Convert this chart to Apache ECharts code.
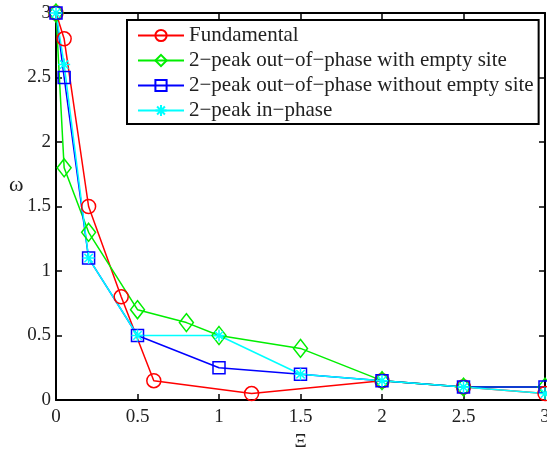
<!DOCTYPE html>
<html>
<head>
<meta charset="utf-8">
<script src="https://cdn.jsdelivr.net/npm/echarts@6/dist/echarts.min.js"></script>
<style>
  html, body { margin: 0; padding: 0; background: #fff; }
  #chart { width: 547px; height: 450px; }
</style>
</head>
<body>
<div id="chart"></div>
<script>
const seriesNames = [
  'Fundamental',
  '2\u2212peak out\u2212of\u2212phase with empty site',
  '2\u2212peak out\u2212of\u2212phase without empty site',
  '2\u2212peak in\u2212phase'
]

// [xi, omega] pairs
const fundamental = [[0, 3], [0.05, 2.8], [0.2, 1.5], [0.4, 0.8], [0.6, 0.15], [1.2, 0.05], [2, 0.15], [2.5, 0.1], [3, 0.05]]
const withEmpty = [[0, 3], [0.05, 1.8], [0.2, 1.3], [0.5, 0.7], [0.8, 0.6], [1, 0.5], [1.5, 0.4], [2, 0.15], [2.5, 0.1], [3, 0.1]]
const withoutEmpty = [[0, 3], [0.05, 2.5], [0.2, 1.1], [0.5, 0.5], [1, 0.25], [1.5, 0.2], [2, 0.15], [2.5, 0.1], [3, 0.1]]
const inPhase = [[0, 3], [0.05, 2.6], [0.2, 1.1], [0.5, 0.5], [1, 0.5], [1.5, 0.2], [2, 0.15], [2.5, 0.1], [3, 0.05]]

const xTicks = [0, 0.5, 1, 1.5, 2, 2.5, 3]

const font = "'Liberation Serif', 'Times New Roman', serif"
const asterisk = 'path://M0 5L10 5M5 0L5 10M1.5 1.5L8.5 8.5M8.5 1.5L1.5 8.5'

function makeSeries(name, data, color, symbol, size) {
  return {
    name: name,
    type: 'line',
    data: data,
    symbol: symbol,
    symbolSize: size,
    clip: false,
    animation: false,
    lineStyle: { color: color, width: 1.5 },
    itemStyle: {
      color: symbol === asterisk ? color : 'rgba(0,0,0,0)',
      borderColor: color,
      borderWidth: 1.5
    }
  }
}

const axisBase = {
  type: 'value',
  min: 0,
  max: 3,
  interval: 0.5,
  axisLine: { show: true, onZero: false, lineStyle: { color: '#000', width: 2 } },
  axisTick: { show: true, inside: true, length: 6, lineStyle: { color: '#000', width: 1.5 } },
  splitLine: { show: false }
}

const chart = echarts.init(document.getElementById('chart'))

chart.setOption({
  backgroundColor: '#fff',
  grid: { left: 56, right: 2, top: 13, bottom: 50, outerBoundsMode: 'none', containLabel: false },
  // omega label sits a bit above the middle of the y axis
  graphic: [{
    type: 'text',
    left: 9,
    top: 174,
    style: { text: '\u03c9', fontFamily: font, fontSize: 22, fill: '#222' }
  }],
  legend: {
    orient: 'vertical',
    left: 127,
    top: 20,
    padding: [5, 5, 3, 10],
    itemWidth: 46,
    itemHeight: 14,
    itemGap: 4,
    backgroundColor: '#fff',
    borderColor: '#000',
    borderWidth: 2,
    borderRadius: 0,
    textStyle: { fontFamily: font, fontSize: 21, color: '#222' },
    data: seriesNames
  },
  xAxis: [
    Object.assign({}, axisBase, {
      position: 'bottom',
      name: '\u039e',
      nameLocation: 'middle',
      nameGap: 33,
      nameTextStyle: { fontFamily: font, fontSize: 19, color: '#222' },
      axisLabel: {
        fontFamily: font, fontSize: 19, color: '#222', margin: 8,
        formatter: v => xTicks.indexOf(v) >= 0 ? String(v) : ''
      }
    }),
    Object.assign({}, axisBase, { position: 'top', axisLabel: { show: false } })
  ],
  yAxis: [
    Object.assign({}, axisBase, {
      position: 'left',
      axisLabel: { fontFamily: font, fontSize: 19, color: '#222', margin: 5 }
    }),
    Object.assign({}, axisBase, { position: 'right', axisLabel: { show: false } })
  ],
  series: [
    makeSeries(seriesNames[0], fundamental, '#ff0000', 'circle', 14),
    makeSeries(seriesNames[1], withEmpty, '#00ee00', 'diamond', [14, 18]),
    makeSeries(seriesNames[2], withoutEmpty, '#0000ff', 'rect', 12),
    makeSeries(seriesNames[3], inPhase, '#00ffff', asterisk, 12)
  ]
})
</script>
</body>
</html>
